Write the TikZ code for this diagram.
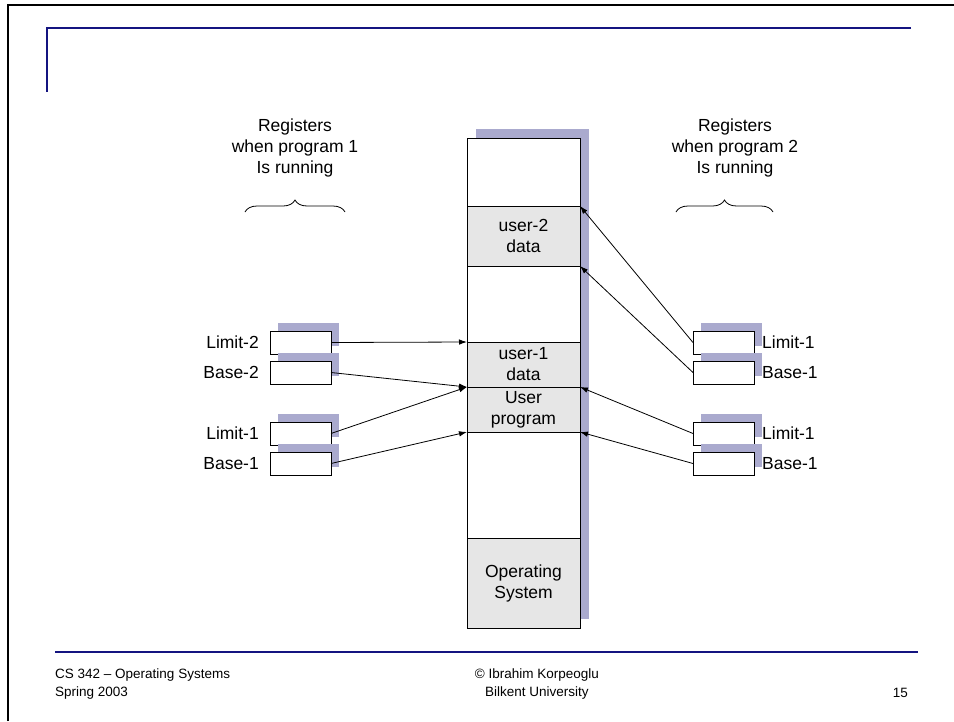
\documentclass[tikz,border=0pt]{standalone}
\usepackage{fontspec}
\setmainfont{Liberation Sans}
\usetikzlibrary{arrows.meta,decorations.pathreplacing,shadows}
\definecolor{shadowc}{RGB}{170,170,206}
\definecolor{rulec}{RGB}{20,20,128}
\definecolor{cellgray}{RGB}{230,230,230}
\begin{document}
\begin{tikzpicture}[x=1pt,y=-1pt,
  txt/.style={font=\fontsize{17.5}{21}\selectfont},
  cell/.style={txt,draw,line width=0.9pt,minimum width=113pt,inner sep=0pt,outer sep=0pt,
    anchor=north west,align=center,fill=white},
  used/.style={cell,fill=cellgray},
  reg/.style={draw,line width=0.9pt,fill=white,minimum width=61pt,minimum height=23pt,
    inner sep=0pt,outer sep=0pt,anchor=north west,
    drop shadow={shadow xshift=8pt,shadow yshift=8pt,fill=shadowc,opacity=1}},
  lbl/.style={txt,inner sep=0pt},
  head/.style={txt,align=center,inner sep=0pt},
  arr/.style={line width=0.8pt,-{Latex[length=8pt,width=5.5pt]}},
  brc/.style={line width=0.8pt,decorate,decoration={brace,amplitude=12pt,aspect=0.5}},
  foot/.style={font=\fontsize{13.5}{18}\selectfont,inner sep=0pt},
  rule/.style={rulec,line width=2.5pt}
]
\useasboundingbox (0,0) rectangle (954,721);

% slide frame and title rules
\draw[line width=2pt] (8,721) -- (8,5) -- (954,5);
\draw[rule] (911,28) -- (47,28) -- (47,92);
\draw[rule] (55,652) -- (918,652);

% memory column with its shadow
\fill[shadowc] (476,129) rectangle (589,619);
\node[cell,minimum height=68pt] (m0) at (467,138) {};
\node[used,minimum height=60pt] (u2) at (467,206) {user-2\\data};
\node[cell,minimum height=76pt] (m1) at (467,266) {};
\node[used,minimum height=45pt] (u1) at (467,342) {user-1\\data};
\node[used,minimum height=45pt] (up) at (467,387) {User\\program};
\node[cell,minimum height=106pt] (m2) at (467,432) {};
\node[used,minimum height=90pt] (os) at (467,538) {Operating\\System};

% registers of program 1
\node[reg] (l2) at (270,331) {};
\node[reg] (b2) at (270,361) {};
\node[reg] (l1) at (270,422) {};
\node[reg] (b1) at (270,452) {};
\node[lbl,anchor=east] at ([xshift=-11pt]l2.west) {Limit-2};
\node[lbl,anchor=east] at ([xshift=-11pt]b2.west) {Base-2};
\node[lbl,anchor=east] at ([xshift=-11pt]l1.west) {Limit-1};
\node[lbl,anchor=east] at ([xshift=-11pt]b1.west) {Base-1};

% registers of program 2
\node[reg] (rl1) at (693,331) {};
\node[reg] (rb1) at (693,361) {};
\node[reg] (rl1b) at (693,422) {};
\node[reg] (rb1b) at (693,452) {};
\node[lbl,anchor=west] at ([xshift=8pt]rl1.east) {Limit-1};
\node[lbl,anchor=west] at ([xshift=8pt]rb1.east) {Base-1};
\node[lbl,anchor=west] at ([xshift=8pt]rl1b.east) {Limit-1};
\node[lbl,anchor=west] at ([xshift=8pt]rb1b.east) {Base-1};

% headings with braces
\node[head] (hl) at (295,148) {Registers\\when program 1\\Is running};
\node[head] (hr) at (735,148) {Registers\\when program 2\\Is running};
\coordinate (bla) at (245,212);
\coordinate (blb) at (345,212);
\coordinate (bra) at (676,212);
\coordinate (brb) at (773,212);
\draw[brc] (bla) -- (blb);
\draw[brc] (bra) -- (brb);

% pointers into memory
\draw[arr] (l2.east) -- (u1.north west);
\draw[arr] (b2.east) -- (u1.south west);
\draw[arr] (l1.east) -- (up.north west);
\draw[arr] (b1.east) -- (up.south west);
\draw[arr] (rl1.west) -- (u2.north east);
\draw[arr] (rb1.west) -- (u2.south east);
\draw[arr] (rl1b.west) -- (up.north east);
\draw[arr] (rb1b.west) -- (up.south east);

% footer
\node[foot,anchor=west,align=left] (f1) at (55,684) {CS 342 – Operating Systems\\Spring 2003};
\node[foot,align=center] (f2) at (537,684) {© Ibrahim Korpeoglu\\Bilkent University};
\node[foot,anchor=east] (f3) at (908,693) {15};
\end{tikzpicture}
\end{document}
